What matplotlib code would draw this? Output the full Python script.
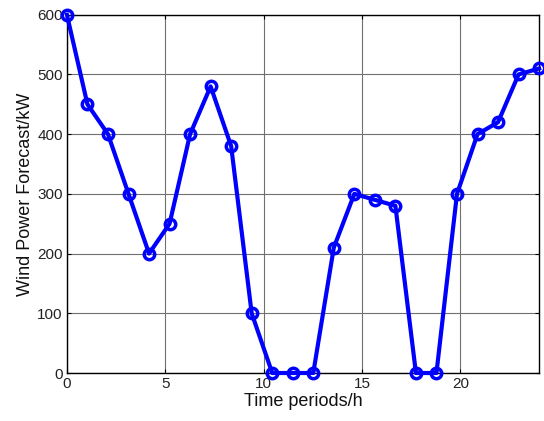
import numpy as np
import matplotlib
matplotlib.use("Agg")
import matplotlib.pyplot as plt

plt.rcParams['font.family'] = ['Liberation Sans', 'DejaVu Sans']

power = [600, 450, 400, 300, 200, 250, 400, 480, 380, 100, 0, 0, 0,
         210, 300, 290, 280, 0, 0, 300, 400, 420, 500, 510]
hours = np.linspace(0, 24, len(power))
xticks = [0, 5, 10, 15, 20]
yticks = [0, 100, 200, 300, 400, 500, 600]

fig = plt.figure(figsize=(5.44, 4.21), dpi=100)
ax = fig.add_axes([0.123, 0.114, 0.868, 0.851])
ax.plot(hours, power, color='#0000ff', lw=3.0, marker='o', ms=7.5,
        mfc='none', mec='#0000ff', mew=2.5, clip_on=False, zorder=3)
ax.set_xlim(0, 24)
ax.set_ylim(0, 600)
ax.set_xticks(xticks)
ax.set_yticks(yticks)
ax.grid(True, color='#707070', lw=0.8)
ax.tick_params(direction='in', length=3, labelsize=11, top=True, right=True,
               pad=3, colors='black', labelcolor='#222222')
for s in ax.spines.values():
    s.set_linewidth(1.0)
ax.set_xlabel('Time periods/h', fontsize=13, labelpad=1, color='#111111')
ax.set_ylabel('Wind Power Forecast/kW', fontsize=13, labelpad=2, color='#111111')
fig.savefig('out.png', dpi=100)
